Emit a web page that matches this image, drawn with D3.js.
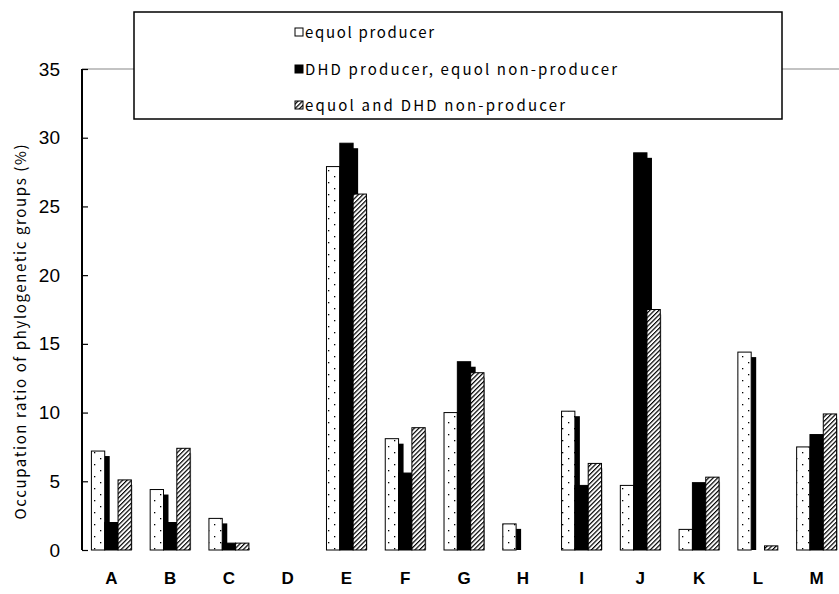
<!DOCTYPE html>
<html><head><meta charset="utf-8">
<script src="https://cdn.jsdelivr.net/npm/d3@7"></script>
<style>html,body{margin:0;padding:0;background:#fff;}svg{display:block;}</style>
</head><body>
<script>
const categories = ["A","B","C","D","E","F","G","H","I","J","K","L","M"];
const seriesNames = ["equol producer","DHD producer, equol non-producer","equol and DHD non-producer"];
const equolProducer   = [7.2, 4.4, 2.3, 0, 27.9, 8.1, 10.0, 1.9, 10.1, 4.7, 1.5, 14.4, 7.5];
const dhdProducer     = [2.0, 2.0, 0.5, 0, 29.6, 5.6, 13.7, 0,   4.7, 28.9, 4.9, 0,   8.4];
const nonProducer     = [5.1, 7.4, 0.5, 0, 25.9, 8.9, 12.9, 0,   6.3, 17.5, 5.3, 0.3, 9.9];
const yTicks = [0,5,10,15,20,25,30,35];
const yTitle = "Occupation ratio of phylogenetic groups (%)";

const W = 839, H = 594;
const svg = d3.select("body").append("svg").attr("width", W).attr("height", H);
const defs = svg.append("defs");
// dotted pattern
const pd = defs.append("pattern").attr("id","dots").attr("patternUnits","userSpaceOnUse")
  .attr("width",12).attr("height",12);
pd.append("rect").attr("width",12).attr("height",12).attr("fill","#fff");
pd.append("rect").attr("x",4).attr("y",2).attr("width",1.3).attr("height",1.3).attr("fill","#000");
pd.append("rect").attr("x",10).attr("y",8).attr("width",1.3).attr("height",1.3).attr("fill","#000");
// hatch pattern
const ph = defs.append("pattern").attr("id","hatch").attr("patternUnits","userSpaceOnUse")
  .attr("width",3.2).attr("height",10).attr("patternTransform","rotate(45)");
ph.append("rect").attr("width",3.2).attr("height",10).attr("fill","#fff");
ph.append("line").attr("x1",0.6).attr("x2",0.6).attr("y1",0).attr("y2",10).attr("stroke","#000").attr("stroke-width",1.2);

const x0 = 82, xRight = 846, yTop = 69, yBase = 550;
const x = d3.scaleBand().domain(categories).range([x0, xRight]).paddingInner(0.32).paddingOuter(0.16);
const xs = d3.scaleBand().domain([0,1,2]).range([0, x.bandwidth()]);
const y = d3.scaleLinear().domain([0,35]).range([yBase, yTop]);

const series = [equolProducer, dhdProducer, nonProducer];
const fills = ["url(#dots)", "#000", "url(#hatch)"];

// top frame line
svg.append("line").attr("x1",x0).attr("x2",W).attr("y1",yTop).attr("y2",yTop)
  .attr("stroke","#888").attr("stroke-width",1.2);

// shadows
const g = svg.append("g");
[0,1,2].forEach(si => {
  g.selectAll(null).data(categories.map((c,i)=>({c, v: series[si][i]})).filter(d=>d.v>0))
    .enter().append("rect")
    .attr("x", d => x(d.c) + xs(si) + (si===2 ? 1 : 5))
    .attr("y", d => y(d.v) + 5)
    .attr("width", xs.bandwidth())
    .attr("height", d => Math.max(0, yBase - y(d.v) - 5))
    .attr("fill", si===2 ? "#999" : "#000");
});
// bars
[0,1,2].forEach(si => {
  g.selectAll(null).data(categories.map((c,i)=>({c, v: series[si][i]})).filter(d=>d.v>0))
    .enter().append("rect")
    .attr("x", d => x(d.c) + xs(si))
    .attr("y", d => y(d.v))
    .attr("width", xs.bandwidth())
    .attr("height", d => yBase - y(d.v))
    .attr("fill", fills[si])
    .attr("stroke", "#000").attr("stroke-width", 1);
});

// y axis
const ya = svg.append("g").attr("transform",`translate(${x0},0)`)
  .call(d3.axisLeft(y).tickValues(yTicks).tickSize(-6).tickPadding(22));
ya.select(".domain").remove();
ya.selectAll(".tick line").attr("stroke","#000").attr("stroke-width",1.2);
ya.selectAll(".tick text").attr("font-family","'Liberation Sans', Arial, sans-serif")
  .attr("font-size",19).attr("fill","#000");
svg.append("line").attr("x1",x0).attr("x2",x0).attr("y1",yTop).attr("y2",yBase)
  .attr("stroke","#000").attr("stroke-width",2);

// x labels
svg.append("g").selectAll("text").data(categories).enter().append("text")
  .attr("x", d => x(d) + x.bandwidth()/2)
  .attr("y", 580)
  .attr("text-anchor","middle").attr("dominant-baseline","middle")
  .attr("font-family","'Liberation Sans', Arial, sans-serif")
  .attr("font-weight","bold").attr("font-size",17).text(d=>d);

// y title
svg.append("text").attr("transform","translate(22,332) rotate(-90)")
  .attr("text-anchor","middle").attr("dominant-baseline","middle")
  .attr("font-family","'Noto Sans CJK JP', 'Noto Sans', sans-serif").attr("font-size",15)
  .attr("textLength",375).attr("lengthAdjust","spacing")
  .text(yTitle);

// legend
const lg = svg.append("g");
lg.append("rect").attr("x",134).attr("y",12).attr("width",648).attr("height",107)
  .attr("fill","#fff").attr("stroke","#000").attr("stroke-width",1.5);
const legW = [129, 312, 260];
const legY = [34, 71, 107];
const swFill = ["#fff", "#000", "url(#hatch)"];
seriesNames.forEach((n,i) => {
  lg.append("rect").attr("x",295).attr("y",legY[i]-6).attr("width",8).attr("height",8)
    .attr("fill", swFill[i]).attr("stroke","#000").attr("stroke-width",1);
  lg.append("text").attr("x",305).attr("y",legY[i]).attr("dominant-baseline","middle")
    .attr("font-family","'Noto Sans CJK JP', 'Noto Sans', sans-serif").attr("font-size",15)
    .attr("textLength",legW[i]).attr("lengthAdjust","spacing")
    .text(n);
});
</script>
</body></html>
